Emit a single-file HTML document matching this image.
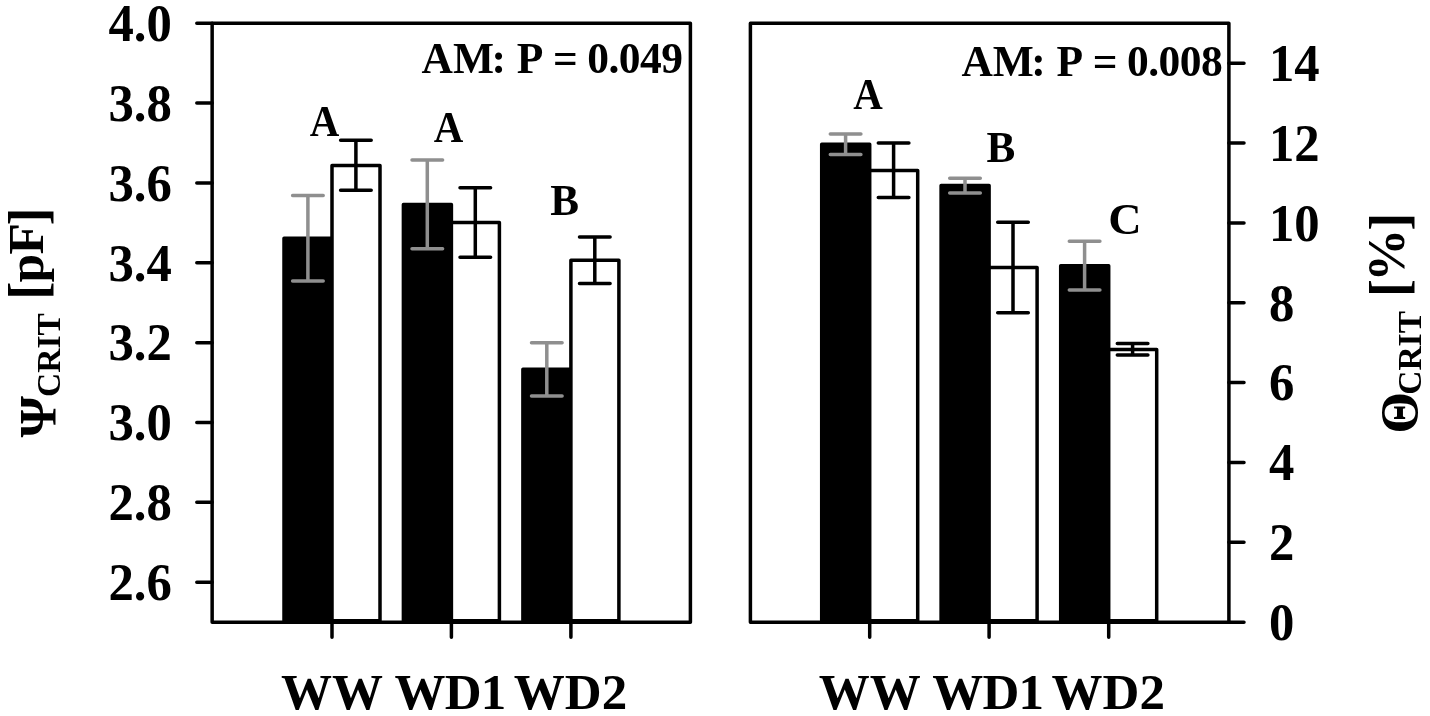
<!DOCTYPE html>
<html><head><meta charset="utf-8"><title>chart</title>
<style>
html,body{margin:0;padding:0;background:#fff;}
body{width:1430px;height:716px;overflow:hidden;}
svg{display:block;will-change:transform;}
text{font-family:"Liberation Serif",serif;font-weight:bold;fill:#000;}
.tk{font-size:51px;}
.an{font-size:43.5px;}
.yl{font-size:52.2px;}
.lt{font-size:44px;}
</style></head><body>
<svg width="1430" height="716" viewBox="0 0 1430 716">
<rect width="1430" height="716" fill="#fff"/>
<g id="barsL"><rect x="284" y="238.3" width="48" height="382.5" fill="#000" stroke="#000" stroke-width="3.5" stroke-linejoin="round"/>
<rect x="332" y="165.4" width="48" height="455.4" fill="#fff" stroke="#000" stroke-width="3.5" stroke-linejoin="round"/>
<path d="M292.6 195.4H323.2M292.6 281H323.2M307.9 195.4V281" stroke="#8f8f8f" stroke-width="3.5" stroke-linecap="round" fill="none"/>
<path d="M340.6 140.3H371.2M340.6 190.3H371.2M355.9 140.3V190.3" stroke="#000" stroke-width="3.5" stroke-linecap="round" fill="none"/>
<rect x="403.4" y="204.4" width="48" height="416.4" fill="#000" stroke="#000" stroke-width="3.5" stroke-linejoin="round"/>
<rect x="451.4" y="222.6" width="48" height="398.2" fill="#fff" stroke="#000" stroke-width="3.5" stroke-linejoin="round"/>
<path d="M412 159.9H442.6M412 248.8H442.6M427.3 159.9V248.8" stroke="#8f8f8f" stroke-width="3.5" stroke-linecap="round" fill="none"/>
<path d="M460 187.8H490.6M460 257.2H490.6M475.3 187.8V257.2" stroke="#000" stroke-width="3.5" stroke-linecap="round" fill="none"/>
<rect x="522.9" y="369.3" width="48" height="251.5" fill="#000" stroke="#000" stroke-width="3.5" stroke-linejoin="round"/>
<rect x="570.9" y="260.2" width="48" height="360.6" fill="#fff" stroke="#000" stroke-width="3.5" stroke-linejoin="round"/>
<path d="M531.5 342.7H562.1M531.5 396H562.1M546.8 342.7V396" stroke="#8f8f8f" stroke-width="3.5" stroke-linecap="round" fill="none"/>
<path d="M579.5 236.9H610.1M579.5 283.6H610.1M594.8 236.9V283.6" stroke="#000" stroke-width="3.5" stroke-linecap="round" fill="none"/></g>
<g id="barsR"><rect x="821.7" y="144.3" width="48" height="476.5" fill="#000" stroke="#000" stroke-width="3.5" stroke-linejoin="round"/>
<rect x="869.7" y="170.6" width="48" height="450.2" fill="#fff" stroke="#000" stroke-width="3.5" stroke-linejoin="round"/>
<path d="M830.3 134H860.9M830.3 154.5H860.9M845.6 134V154.5" stroke="#8f8f8f" stroke-width="3.5" stroke-linecap="round" fill="none"/>
<path d="M878.3 143.1H908.9M878.3 197.5H908.9M893.6 143.1V197.5" stroke="#000" stroke-width="3.5" stroke-linecap="round" fill="none"/>
<rect x="941.1" y="185.4" width="48" height="435.4" fill="#000" stroke="#000" stroke-width="3.5" stroke-linejoin="round"/>
<rect x="989.1" y="267.5" width="48" height="353.3" fill="#fff" stroke="#000" stroke-width="3.5" stroke-linejoin="round"/>
<path d="M949.7 178.2H980.3M949.7 192.9H980.3M965 178.2V192.9" stroke="#8f8f8f" stroke-width="3.5" stroke-linecap="round" fill="none"/>
<path d="M997.7 222.2H1028.3M997.7 312.8H1028.3M1013 222.2V312.8" stroke="#000" stroke-width="3.5" stroke-linecap="round" fill="none"/>
<rect x="1060.7" y="265.7" width="48" height="355.1" fill="#000" stroke="#000" stroke-width="3.5" stroke-linejoin="round"/>
<rect x="1108.7" y="349.4" width="48" height="271.4" fill="#fff" stroke="#000" stroke-width="3.5" stroke-linejoin="round"/>
<path d="M1069.3 241.3H1099.9M1069.3 290H1099.9M1084.6 241.3V290" stroke="#8f8f8f" stroke-width="3.5" stroke-linecap="round" fill="none"/>
<path d="M1117.3 343.6H1147.9M1117.3 355H1147.9M1132.6 343.6V355" stroke="#000" stroke-width="3.5" stroke-linecap="round" fill="none"/></g>
<rect x="212.15" y="23.2" width="478.25" height="599" fill="none" stroke="#000" stroke-width="3.5" stroke-linejoin="round"/>
<rect x="750.4" y="23.2" width="478.5" height="599" fill="none" stroke="#000" stroke-width="3.5" stroke-linejoin="round"/>
<path d="M196.8 23.2H212.15M196.8 103.06H212.15M196.8 182.92H212.15M196.8 262.78H212.15M196.8 342.64H212.15M196.8 422.5H212.15M196.8 502.36H212.15M196.8 582.22H212.15M332 622.2V637.3M451.4 622.2V637.3M570.9 622.2V637.3M1228.9 622.2H1244.0M1228.9 542.34H1244.0M1228.9 462.48H1244.0M1228.9 382.62H1244.0M1228.9 302.76H1244.0M1228.9 222.9H1244.0M1228.9 143.04H1244.0M1228.9 63.18H1244.0M869.7 622.2V637.3M989.1 622.2V637.3M1108.7 622.2V637.3" stroke="#000" stroke-width="3.5" stroke-linecap="round" fill="none"/>
<text class="yl" transform="translate(171.8 41) scale(0.972 1)" text-anchor="end">4.0</text>
<text class="yl" transform="translate(171.8 120.86) scale(0.972 1)" text-anchor="end">3.8</text>
<text class="yl" transform="translate(171.8 200.72) scale(0.972 1)" text-anchor="end">3.6</text>
<text class="yl" transform="translate(171.8 280.58) scale(0.972 1)" text-anchor="end">3.4</text>
<text class="yl" transform="translate(171.8 360.44) scale(0.972 1)" text-anchor="end">3.2</text>
<text class="yl" transform="translate(171.8 440.3) scale(0.972 1)" text-anchor="end">3.0</text>
<text class="yl" transform="translate(171.8 520.16) scale(0.972 1)" text-anchor="end">2.8</text>
<text class="yl" transform="translate(171.8 600.02) scale(0.972 1)" text-anchor="end">2.6</text>
<text class="yl" transform="translate(1268.9 640) scale(0.972 1)">0</text>
<text class="yl" transform="translate(1268.9 560.14) scale(0.972 1)">2</text>
<text class="yl" transform="translate(1268.9 480.28) scale(0.972 1)">4</text>
<text class="yl" transform="translate(1268.9 400.42) scale(0.972 1)">6</text>
<text class="yl" transform="translate(1268.9 320.56) scale(0.972 1)">8</text>
<text class="yl" transform="translate(1268.9 240.7) scale(0.972 1)">10</text>
<text class="yl" transform="translate(1268.9 160.84) scale(0.972 1)">12</text>
<text class="yl" transform="translate(1268.9 80.98) scale(0.972 1)">14</text>
<text class="tk" x="281.1" y="708.8">WW</text>
<text class="tk" x="394.4" y="708.8" letter-spacing="-0.7">WD1</text>
<text class="tk" x="513.8" y="708.8">WD2</text>
<text class="tk" x="818.85" y="708.8">WW</text>
<text class="tk" x="932.15" y="708.8" letter-spacing="-0.7">WD1</text>
<text class="tk" x="1051.55" y="708.8">WD2</text>
<text class="an" y="73"><tspan x="421.6">AM</tspan><tspan x="491.5">:</tspan><tspan x="516.8">P</tspan><tspan x="552.9">=</tspan><tspan x="587.15" letter-spacing="-0.5">0.049</tspan></text>
<text class="an" y="76.2"><tspan x="961.4">AM</tspan><tspan x="1031.3">:</tspan><tspan x="1056.6">P</tspan><tspan x="1092.7">=</tspan><tspan x="1126.95" letter-spacing="-0.5">0.008</tspan></text>
<text class="lt" transform="translate(324.6 135.6) scale(0.93 1)" text-anchor="middle">A</text>
<text class="lt" transform="translate(448.4 141.5) scale(0.93 1)" text-anchor="middle">A</text>
<text class="lt" transform="translate(564.7 215.4) scale(0.98 1)" text-anchor="middle">B</text>
<text class="lt" transform="translate(868 108.7) scale(0.93 1)" text-anchor="middle">A</text>
<text class="lt" transform="translate(1000.8 161.9) scale(0.98 1)" text-anchor="middle">B</text>
<text class="lt" transform="translate(1124.9 233.8) scale(1.05 1)" text-anchor="middle">C</text>
<g transform="rotate(-90)"><text font-size="53" x="-437.4" y="55.5">Ψ</text><text font-size="33.5" x="-396.9" y="60.3">CRIT</text><text font-size="54.4" x="-299.8" y="46.15">[</text><text font-size="51.5" x="-282.4" y="42.8">p</text><text font-size="51.5" x="-254.6" y="42.8">F</text><text font-size="54.4" x="-225.6" y="46.15">]</text><text font-size="53.5" x="-433.5" y="1416.9">Θ</text><text font-size="33.5" x="-394.8" y="1420.8">CRIT</text><text font-size="54.1" x="-296.9" y="1406.85">[</text><text font-size="53" x="-281.7" y="1403.8">%</text><text font-size="54.1" x="-230.7" y="1406.85">]</text></g>
</svg></body></html>
